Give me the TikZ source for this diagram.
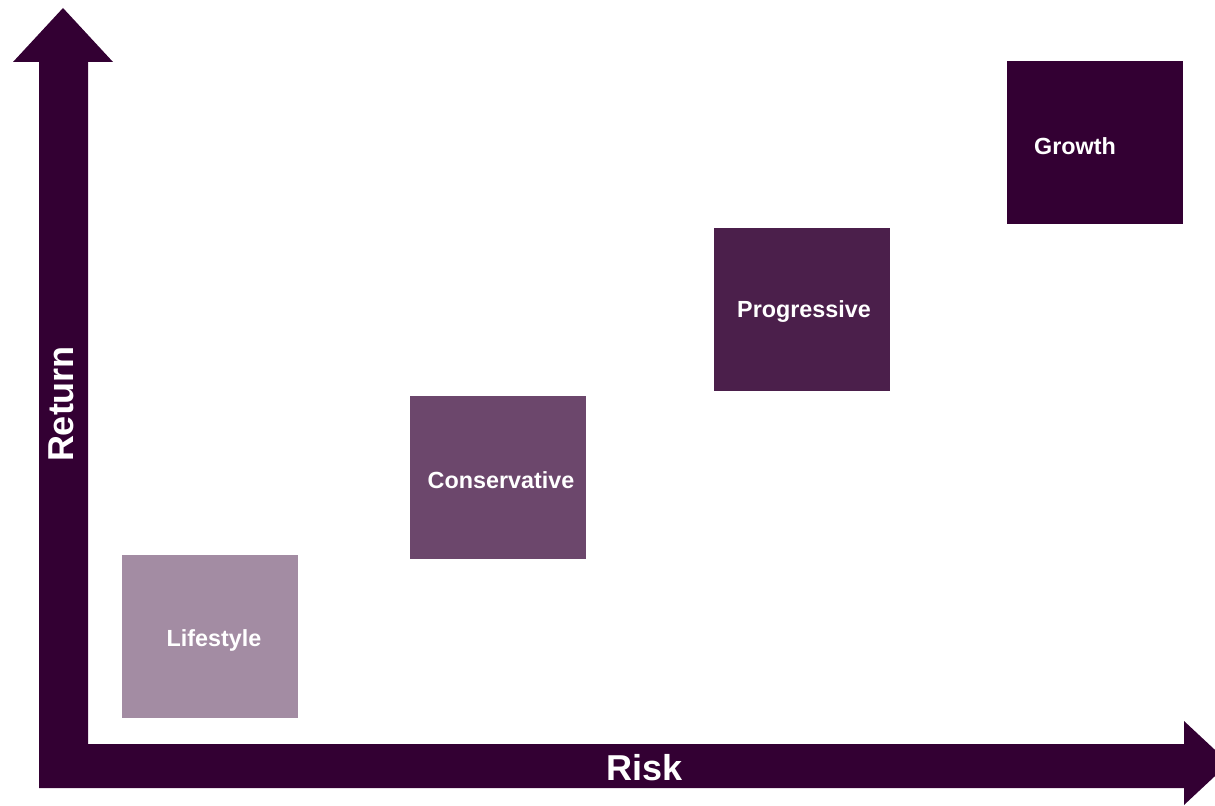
\documentclass[tikz,border=0pt]{standalone}
\usepackage{fontspec}
\setmainfont{Liberation Sans}
\usepackage{xcolor}
\usepackage{tikz}
\definecolor{plum}{HTML}{330033}
\tikzset{
  riskbox/.style={minimum width=132pt,minimum height=122.25pt,inner sep=0pt,draw=none},
  boxlabel/.style={text=white,font=\fontsize{17.5}{20}\selectfont\bfseries,inner sep=0pt},
  axislabel/.style={text=white,font=\fontsize{27}{31}\selectfont\bfseries,inner sep=0pt}
}

\begin{document}
\begin{tikzpicture}[x=0.75pt,y=-0.75pt]
    \useasboundingbox (0,0) rectangle (1215,806);
    % both axes as one block arrow
    \fill[plum] (39,788) -- (39,62) -- (13,62) -- (63,8) -- (113,62) -- (88,62)
      -- (88,744) -- (1184,744) -- (1184,721) -- (1229,763) -- (1184,805)
      -- (1184,788) -- cycle;
    \node[axislabel] (risk) at (645,768) {Risk};
    \node[axislabel,rotate=90] (return) at (61,404) {Return};
    % portfolios, lighter for lower risk
    \node[riskbox,fill=plum!45] (lifestyle) at (210,636.5) {};
    \node[riskbox,fill=plum!72] (conservative) at (498,477.5) {};
    \node[riskbox,fill=plum!88] (progressive) at (802,309.5) {};
    \node[riskbox,fill=plum] (growth) at (1094.5,142.5) {};
    \node[boxlabel] (lifestyle-t) at (214,640) {Lifestyle};
    \node[boxlabel] (conservative-t) at (501,480) {Conservative};
    \node[boxlabel] (progressive-t) at (804,312) {Progressive};
    \node[boxlabel] (growth-t) at (1075,146) {Growth};
  \end{tikzpicture}
\end{document}
